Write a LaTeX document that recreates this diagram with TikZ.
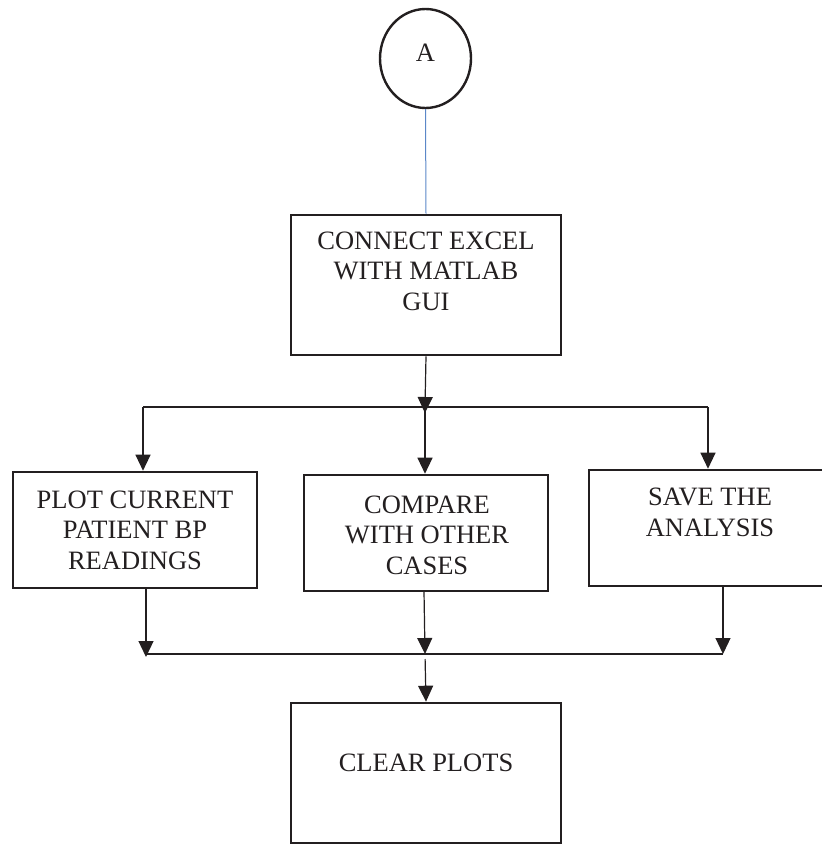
\documentclass[tikz,border=0pt]{standalone}
\usepackage{fontspec}
\setmainfont{Liberation Serif}
\usetikzlibrary{arrows.meta,shapes.geometric}
\definecolor{ink}{RGB}{35,31,32}
\definecolor{bluelink}{RGB}{91,135,200}
\tikzset{
  box/.style={draw=ink, line width=2.6pt, rectangle, inner sep=0pt},
  lbl/.style={align=center, inner sep=0pt, text=ink, font=\fontsize{26.5}{30.5}\selectfont},
  conn/.style={draw=ink, line width=1.2pt},
  arr/.style={conn, -{Triangle[width=15pt,length=16pt]}},
}
\begin{document}
\begin{tikzpicture}[x=1pt,y=-1pt]
\useasboundingbox (0,0) rectangle (822,844);
% start connector
\node[draw=ink, line width=2.4pt, ellipse, minimum width=91pt, minimum height=99pt, inner sep=0pt] (c) at (425.5,58.5) {};
\node[lbl] (ca) at (425.5,53) {A};
% boxes
\node[box, minimum width=270pt, minimum height=140pt] (b1) at (426,285) {};
\node[lbl] (t1) at (426,271) {CONNECT EXCEL\\WITH MATLAB\\GUI};
\node[box, minimum width=244pt, minimum height=116pt] (b2) at (135,530) {};
\node[lbl] (t2) at (135,530) {PLOT CURRENT\\PATIENT BP\\READINGS};
\node[box, minimum width=244pt, minimum height=116pt] (b3) at (426,533) {};
\node[lbl] (t3) at (427,535) {COMPARE\\WITH OTHER\\CASES};
\node[box, minimum width=244pt, minimum height=116pt] (b4) at (711,528) {};
\node[lbl] (t4) at (710,512.5) {SAVE THE\\ANALYSIS};
\node[box, minimum width=270pt, minimum height=140pt] (b5) at (426,773) {};
\node[lbl] (t5) at (426,763) {CLEAR PLOTS};
% junctions
\coordinate (jl) at (143,407);
\coordinate (jm) at (425,407);
\coordinate (jr) at (708,407);
\coordinate (kl) at (146,654);
\coordinate (km) at (425,654);
\coordinate (kr) at (723,654);
% connectors
\draw[draw=bluelink, line width=1pt] (c.south) -- (b1.north);
\draw[arr, shorten >=-6pt] (b1.south) -- (jm);
\draw[conn] (jl) -- (jr);
\draw[arr] (jl) -- (jl |- b2.north);
\draw[arr] (jm) -- (jm |- b3.north);
\draw[arr] (jr) -- (jr |- b4.north);
\draw[arr, shorten >=-3pt] (kl |- b2.south) -- (kl);
\draw[arr] (kr |- b4.south) -- (kr);
\draw[arr] (424,591) -- (km);
\draw[conn] (kl) -- (kr);
\draw[arr, shorten <=5pt] (km) -- (b5.north);
\end{tikzpicture}
\end{document}
